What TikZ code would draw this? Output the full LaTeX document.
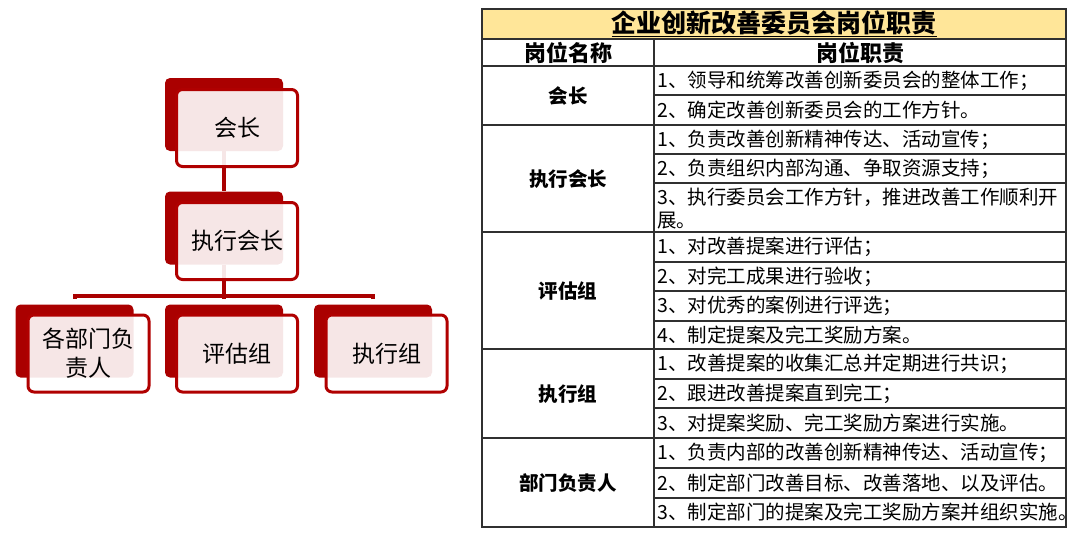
\documentclass[tikz,border=0pt]{standalone}
\usepackage{fontspec}
\setmainfont{Noto Sans CJK SC}
\definecolor{dred}{HTML}{AA0000}
\definecolor{bred}{HTML}{B00000}
\definecolor{ttl}{HTML}{FFE699}
\definecolor{gline}{HTML}{303030}
\begin{document}
\begin{tikzpicture}[x=1pt,y=-1pt,
  backbox/.style={draw=none, fill=dred, rounded corners=5pt, minimum width=118pt, minimum height=73pt, inner sep=0pt},
  frontbox/.style={draw=bred, line width=3pt, fill=white, fill opacity=0.9, text opacity=1, rounded corners=6pt, minimum width=121pt, minimum height=77pt, inner sep=0pt, font=\fontsize{23}{29}\selectfont, align=center},
  conn/.style={draw=dred, line width=4pt},
  cell/.style={anchor=west, inner sep=0pt, font=\fontsize{19.5}{24}\selectfont},
  pname/.style={inner sep=0pt, font=\fontsize{19.5}{24}\selectfont\bfseries},
  grid/.style={line width=1.2pt, draw=gline}]
\useasboundingbox (0,0) rectangle (1080,550);
% ---------- org chart ----------
\node[backbox] (b1) at (224,114.5) {};
\node[backbox] (b2) at (224,228) {};
\node[backbox] (c1) at (74.5,341) {};
\node[backbox] (c2) at (224,341) {};
\node[backbox] (c3) at (373,341) {};
\coordinate (bar) at (224,296);
\draw[conn] (b1.south) -- (b2.north);
\draw[conn] (b2.south) -- (bar);
\draw[conn, shorten >=5pt] (bar) -| (c1.north);
\draw[conn, shorten >=5pt] (bar) -| (c3.north);
\draw[conn, shorten >=5pt] (bar) -- (c2.north);
\node[frontbox] (f1) at (237,128) {会长};
\node[frontbox] (f2) at (237,241) {执行会长};
\node[frontbox] (g1) at (88.5,353.5) {各部门负\\责人};
\node[frontbox] (g2) at (237,353.5) {评估组};
\node[frontbox] (g3) at (386.5,353.5) {执行组};
% ---------- table ----------
\fill[ttl] (482,9) rectangle (1066,39);
\foreach \yy in {39,66,125,232,349,438} \draw[grid] (482,\yy) -- (1066,\yy);
\foreach \yy in {95,154,183,262,291,321,379,408,468,498} \draw[grid] (654,\yy) -- (1066,\yy);
\draw[grid] (654,39) -- (654,527);
\draw[line width=1.5pt, draw=gline] (482,9) rectangle (1066,527);
\node[inner sep=0pt, font=\fontsize{25}{30}\selectfont\bfseries] (title) at (774,24) {\underline{企业创新改善委员会岗位职责}};
\node[inner sep=0pt, font=\fontsize{22}{26}\selectfont\bfseries] (h1) at (568,53) {岗位名称};
\node[inner sep=0pt, font=\fontsize{22}{26}\selectfont\bfseries] (h2) at (860,53) {岗位职责};
\node[pname] (n1) at (568,96) {会长};
\node[pname] (n2) at (568,179) {执行会长};
\node[pname] (n3) at (568,291) {评估组};
\node[pname] (n4) at (568,394) {执行组};
\node[pname] (n5) at (568,483) {部门负责人};
\node[cell] (t11) at (657,80.5) {1、领导和统筹改善创新委员会的整体工作；};
\node[cell] (t12) at (657,110) {2、确定改善创新委员会的工作方针。};
\node[cell] (t21) at (657,139.5) {1、负责改善创新精神传达、活动宣传；};
\node[cell] (t22) at (657,168.5) {2、负责组织内部沟通、争取资源支持；};
\node[cell] (t23) at (657,197) {3、执行委员会工作方针，推进改善工作顺利开};
\node[cell] (t24) at (657,221) {展。};
\node[cell] (t31) at (657,247) {1、对改善提案进行评估；};
\node[cell] (t32) at (657,276.5) {2、对完工成果进行验收；};
\node[cell] (t33) at (657,306) {3、对优秀的案例进行评选；};
\node[cell] (t34) at (657,335) {4、制定提案及完工奖励方案。};
\node[cell] (t41) at (657,364) {1、改善提案的收集汇总并定期进行共识；};
\node[cell] (t42) at (657,393.5) {2、跟进改善提案直到完工；};
\node[cell] (t43) at (657,423) {3、对提案奖励、完工奖励方案进行实施。};
\node[cell] (t51) at (657,453) {1、负责内部的改善创新精神传达、活动宣传；};
\node[cell] (t52) at (657,483) {2、制定部门改善目标、改善落地、以及评估。};
\node[cell] (t53) at (657,512.5) {3、制定部门的提案及完工奖励方案并组织实施。};
\end{tikzpicture}
\end{document}
